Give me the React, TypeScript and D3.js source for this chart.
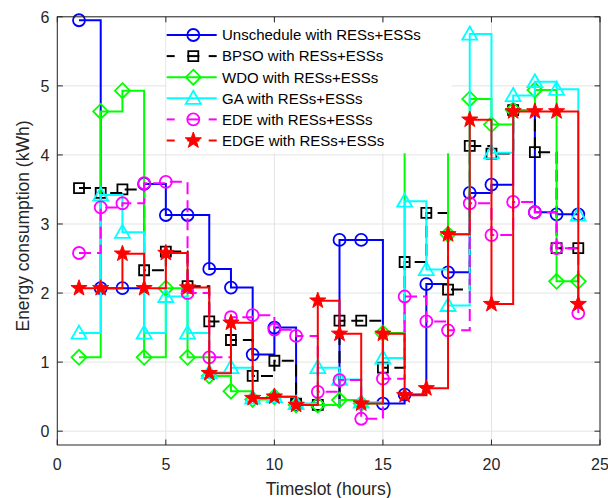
import React from "react";
import * as d3 from "d3";

const hours = [1, 2, 3, 4, 5, 6, 7, 8, 9, 10, 11, 12, 13, 14, 15, 16, 17, 18, 19, 20, 21, 22, 23, 24];
const unschedule = [5.95, 2.07, 2.07, 3.58, 3.13, 3.13, 2.35, 2.08, 1.11, 1.5, 0.39, 0.38, 2.77, 2.77, 0.4, 0.53, 2.13, 2.3, 3.45, 3.57, 4.65, 3.17, 3.14, 3.14];
const bpso = [3.52, 3.45, 3.5, 2.33, 2.6, 2.1, 1.59, 1.32, 0.8, 1.02, 0.4, 0.38, 1.6, 1.6, 0.92, 2.45, 3.16, 2.05, 4.13, 4.02, 4.65, 4.04, 2.65, 2.65];
const wdo = [1.07, 4.63, 4.93, 1.07, 2.07, 1.07, 0.8, 0.58, 0.46, 0.5, 0.38, 0.38, 0.45, 0.4, 1.42, 4.37, 4.2, 2.85, 4.81, 4.44, 4.65, 4.94, 2.17, 2.17];
const ga = [1.42, 3.42, 2.88, 1.42, 1.95, 1.42, 0.85, 0.92, 0.48, 0.5, 0.4, 0.92, 0.75, 0.42, 1.06, 3.33, 2.34, 1.82, 5.75, 4.03, 4.86, 5.06, 4.95, 3.13];
const ede = [2.58, 3.24, 3.3, 3.59, 3.61, 2.0, 1.07, 1.65, 1.68, 1.47, 1.38, 0.57, 0.74, 0.18, 0.76, 1.95, 1.59, 1.46, 3.3, 2.84, 3.32, 3.17, 2.65, 1.71];
const edge = [2.07, 2.07, 2.57, 2.07, 2.58, 2.08, 0.84, 1.57, 0.48, 0.5, 0.38, 1.89, 1.41, 0.4, 1.41, 0.52, 0.62, 2.85, 4.51, 1.84, 4.63, 4.63, 4.63, 1.84];

const seriesNames = [
  "Unschedule with RESs+ESSs",
  "BPSO with RESs+ESSs",
  "WDO with RESs+ESSs",
  "GA with RESs+ESSs",
  "EDE with RESs+ESSs",
  "EDGE with RESs+ESSs",
];
const xTicks = [0, 5, 10, 15, 20, 25];
const yTicks = [0, 1, 2, 3, 4, 5, 6];

type Marker = "circle" | "square" | "diamond" | "triangle" | "star";
const series: { name: string; values: number[]; color: string; marker: Marker; dashed: boolean; legendDashed: boolean; fill: boolean }[] = [
  { name: seriesNames[0], values: unschedule, color: "#0000ff", marker: "circle", dashed: false, legendDashed: false, fill: false },
  { name: seriesNames[1], values: bpso, color: "#000000", marker: "square", dashed: true, legendDashed: true, fill: false },
  { name: seriesNames[2], values: wdo, color: "#00ff00", marker: "diamond", dashed: false, legendDashed: false, fill: false },
  { name: seriesNames[3], values: ga, color: "#00ffff", marker: "triangle", dashed: false, legendDashed: false, fill: false },
  { name: seriesNames[4], values: ede, color: "#ff00ff", marker: "circle", dashed: true, legendDashed: true, fill: false },
  { name: seriesNames[5], values: edge, color: "#ff0000", marker: "star", dashed: false, legendDashed: true, fill: true },
];

const FONT = "'Liberation Sans', Arial, Helvetica, sans-serif";
const AX = "#262626";

function markerPath(m: Marker): string {
  switch (m) {
    case "square":
      return "M-5,-5H5V5H-5Z";
    case "diamond":
      return "M0,-7.5L7.5,0L0,7.5L-7.5,0Z";
    case "triangle":
      return "M0,-7.5L7.5,5.5L-7.5,5.5Z";
    case "star": {
      const pts: string[] = [];
      for (let i = 0; i < 10; i++) {
        const r = i % 2 === 0 ? 8.5 : 3.4;
        const a = -Math.PI / 2 + (i * Math.PI) / 5;
        pts.push(`${(r * Math.cos(a)).toFixed(2)},${(r * Math.sin(a)).toFixed(2)}`);
      }
      return "M" + pts.join("L") + "Z";
    }
    default:
      return "";
  }
}

function MarkerShape({ m, cx, cy, color, fill }: { m: Marker; cx: number; cy: number; color: string; fill: boolean }) {
  if (m === "circle") {
    return <circle cx={cx} cy={cy} r={6} fill="none" stroke={color} strokeWidth={1.8} />;
  }
  return (
    <path
      d={markerPath(m)}
      transform={`translate(${cx},${cy})`}
      fill={fill ? color : "none"}
      stroke={color}
      strokeWidth={fill ? 1 : 1.8}
      strokeLinejoin="miter"
    />
  );
}

export default function App() {
  const W = 608;
  const H = 498;
  const x = d3.scaleLinear().domain([0, 25]).range([57.3, 600]);
  const y = d3.scaleLinear().domain([-0.2, 6]).range([445, 16.8]);
  const L = x(0), R = x(25), T = y(6), B = y(-0.2);

  const line = d3
    .line<number>()
    .x((_, i) => x(hours[i]))
    .y((d) => y(d))
    .curve(d3.curveStepAfter);

  const lgX0 = 166.7, lgX1 = 216.7, lgMx = 193.3, lgTx = 222, lgY0 = 35, lgDy = 21.1;

  return (
    <svg width={W} height={H} style={{ position: "absolute", left: 0, top: 0 }} fontFamily={FONT}>
      <rect x={0} y={0} width={W} height={H} fill="#fff" />
      {/* grid */}
      {xTicks.map((t) => (
        <line key={"gx" + t} x1={x(t)} x2={x(t)} y1={T} y2={B} stroke="#e3e3e3" strokeWidth={1} />
      ))}
      {yTicks.map((t) => (
        <line key={"gy" + t} x1={L} x2={R} y1={y(t)} y2={y(t)} stroke="#e3e3e3" strokeWidth={1} />
      ))}
      {/* series */}
      {series.map((s) => (
        <g key={s.name}>
          <path
            d={line(s.values) || ""}
            fill="none"
            stroke={s.color}
            strokeWidth={2}
            strokeDasharray={s.dashed ? "12,6" : undefined}
          />
          {s.values.map((v, i) => (
            <MarkerShape key={i} m={s.marker} cx={x(hours[i])} cy={y(v)} color={s.color} fill={s.fill} />
          ))}
        </g>
      ))}
      {/* axes box */}
      <rect x={L} y={T} width={R - L} height={B - T} fill="none" stroke={AX} strokeWidth={1} />
      {xTicks.map((t) => (
        <g key={"tx" + t}>
          <line x1={x(t)} x2={x(t)} y1={B} y2={B - 5.5} stroke={AX} />
          <line x1={x(t)} x2={x(t)} y1={T} y2={T + 5.5} stroke={AX} />
          <text x={x(t)} y={470} textAnchor="middle" fontSize={16} fill={AX}>
            {t}
          </text>
        </g>
      ))}
      {yTicks.map((t) => (
        <g key={"ty" + t}>
          <line x1={L} x2={L + 5.5} y1={y(t)} y2={y(t)} stroke={AX} />
          <line x1={R} x2={R - 5.5} y1={y(t)} y2={y(t)} stroke={AX} />
          <text x={49.5} y={y(t) + 6} textAnchor="end" fontSize={16} fill={AX}>
            {t}
          </text>
        </g>
      ))}
      <text x={(L + R) / 2} y={495} textAnchor="middle" fontSize={17.5} fill={AX}>
        Timeslot (hours)
      </text>
      <text transform={`translate(28.5,226) rotate(-90)`} textAnchor="middle" fontSize={17.5} fill={AX}>
        Energy consumption (kWh)
      </text>
      {/* legend */}
      <rect x={166.5} y={23.3} width={285} height={130} fill="#fff" stroke="none" />
      {series.map((s, i) => {
        const ly = lgY0 + i * lgDy;
        return (
          <g key={"lg" + i}>
            {s.legendDashed ? (
              <g stroke={s.color} strokeWidth={2}>
                <line x1={lgX0} x2={lgX0 + 8} y1={ly} y2={ly} />
                <line x1={lgMx - 6} x2={lgMx + 6} y1={ly} y2={ly} />
                <line x1={lgX1 - 8} x2={lgX1} y1={ly} y2={ly} />
              </g>
            ) : (
              <line x1={lgX0} x2={lgX1} y1={ly} y2={ly} stroke={s.color} strokeWidth={2} />
            )}
            <MarkerShape m={s.marker} cx={lgMx} cy={ly} color={s.color} fill={s.fill} />
            <text x={lgTx} y={ly + 5.3} fontSize={15} fill="#000">
              {s.name}
            </text>
          </g>
        );
      })}
    </svg>
  );
}
